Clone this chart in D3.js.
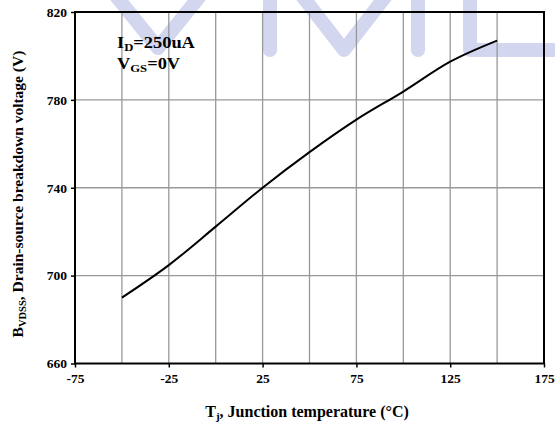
<!DOCTYPE html>
<html><head><meta charset="utf-8">
<script src="https://cdn.jsdelivr.net/npm/d3@7"></script>
<style>body{margin:0;background:#fff}svg{display:block}</style>
</head><body>
<svg id="c" width="555" height="430"></svg>
<script>
const temps = [-50, -25, 0, 25, 50, 75, 100, 125, 150];
const bvdss = [690, 704.8, 722.3, 740, 756.2, 771, 783.8, 797.4, 807];
const xTicks = [-75, -25, 25, 75, 125, 175];
const xGrid = [-50, -25, 0, 25, 50, 75, 100, 125, 150];
const yTicks = [660, 700, 740, 780, 820];

const svg = d3.select("#c");
const x = d3.scaleLinear().domain([-75, 175]).range([75, 544]);
const y = d3.scaleLinear().domain([660, 820]).range([363.5, 12]);
const font = "'Liberation Serif','Times New Roman',serif";

// watermark
const wm = svg.append("g").attr("fill","none").attr("stroke","#d3d6ef")
  .attr("stroke-width",14).attr("stroke-linecap","round").attr("stroke-linejoin","round");
wm.append("path").attr("d","M108,-14 L158,48 L208,-14");
wm.append("path").attr("d","M270,-12 L270,50");
wm.append("path").attr("d","M296,-12 L344,50 L392,-12");
wm.append("path").attr("d","M418,-12 L418,50");
wm.append("path").attr("d","M470,-12 L470,50 L570,50");

// grid
svg.append("g").selectAll("line").data(xGrid).join("line")
  .attr("x1",d=>x(d)).attr("x2",d=>x(d)).attr("y1",y(820)).attr("y2",y(660))
  .attr("stroke","#999").attr("stroke-width",1.3);
svg.append("g").selectAll("line").data(yTicks.slice(1,-1)).join("line")
  .attr("y1",d=>y(d)).attr("y2",d=>y(d)).attr("x1",x(-75)).attr("x2",x(175))
  .attr("stroke","#999").attr("stroke-width",1.3);

// axes
const xAxis = d3.axisBottom(x).tickValues(xTicks).tickSize(4).tickPadding(6).tickFormat(d => String(d));
const gx = svg.append("g").attr("transform",`translate(0,${y(660)})`).call(xAxis);
const yAxis = d3.axisLeft(y).tickValues(yTicks).tickSize(4).tickPadding(4).tickFormat(d => String(d));
const gy = svg.append("g").attr("transform",`translate(${x(-75)},0)`).call(yAxis);
[gx,gy].forEach(g=>{
  g.select(".domain").remove();
  g.selectAll(".tick line").attr("stroke","#000").attr("stroke-width",1.5);
  g.selectAll("text").attr("font-family",font).attr("font-weight","bold").attr("font-size",13.5).attr("fill","#000");
});
gy.selectAll("text").attr("dy","0.32em");

// frame
svg.append("rect").attr("x",x(-75)).attr("y",y(820)).attr("width",x(175)-x(-75)).attr("height",y(660)-y(820))
  .attr("fill","none").attr("stroke","#000").attr("stroke-width",2);

// curve
const line = d3.line().x((d,i)=>x(temps[i])).y(d=>y(d)).curve(d3.curveMonotoneX);
svg.append("path").attr("d",line(bvdss)).attr("fill","none").attr("stroke","#000").attr("stroke-width",2);

// annotation
const ann = svg.append("g").attr("transform","translate(117,0) scale(1.15,1)")
  .attr("font-family",font).attr("font-weight","bold").attr("font-size",16).attr("fill","#000");
const t1 = ann.append("text").attr("x",0).attr("y",48);
t1.append("tspan").text("I");
t1.append("tspan").attr("font-size",11).attr("dy",3).text("D");
t1.append("tspan").attr("dy",-3).text("=250uA");
const t2 = ann.append("text").attr("x",0).attr("y",69);
t2.append("tspan").text("V");
t2.append("tspan").attr("font-size",11).attr("dy",3).text("GS");
t2.append("tspan").attr("dy",-3).text("=0V");

// x title
const xt = svg.append("text").attr("x",307).attr("y",417).attr("text-anchor","middle")
  .attr("font-family",font).attr("font-weight","bold").attr("font-size",16).attr("fill","#000");
xt.append("tspan").text("T");
xt.append("tspan").attr("font-size",11).attr("dy",3).text("j");
xt.append("tspan").attr("dy",-3).text(", Junction temperature (°C)");

// y title
const yt = svg.append("text").attr("transform","translate(23,194) rotate(-90)").attr("text-anchor","middle")
  .attr("font-family",font).attr("font-weight","bold").attr("font-size",15.5).attr("fill","#000");
yt.append("tspan").text("B");
yt.append("tspan").attr("font-size",10.5).attr("dy",3).text("VDSS");
yt.append("tspan").attr("dy",-3).text(", Drain-source breakdown voltage (V)");
</script>
</body></html>
